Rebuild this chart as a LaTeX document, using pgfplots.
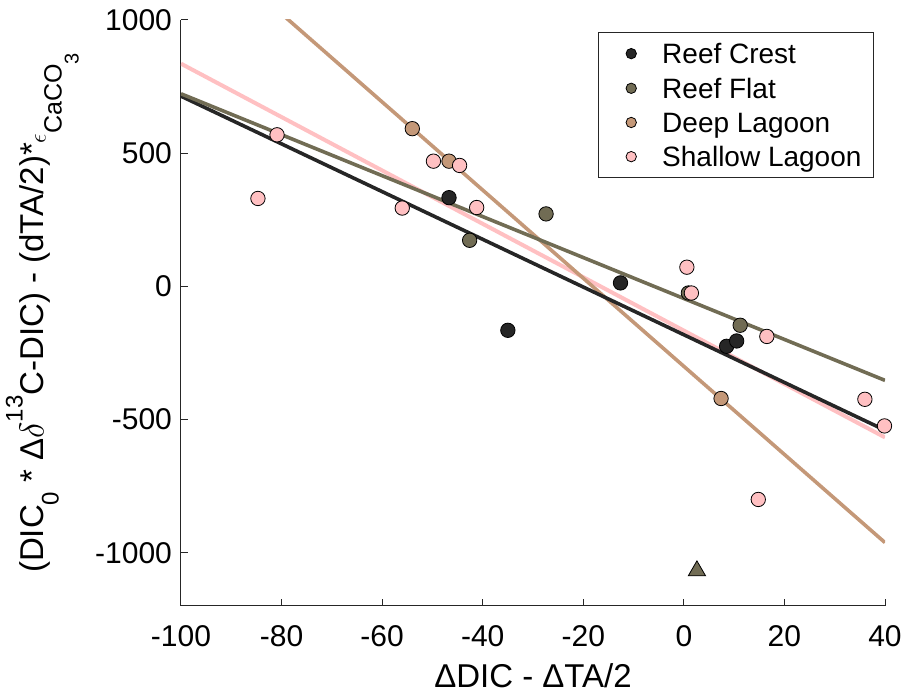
\documentclass[border=0pt]{standalone}
\usepackage{pgfplots}
\pgfplotsset{compat=1.18}
\usepackage{fontspec}
\setmainfont{Liberation Sans}
\definecolor{crest}{RGB}{38,38,38}
\definecolor{flat}{RGB}{113,108,84}
\definecolor{deep}{RGB}{196,152,120}
\definecolor{shallow}{RGB}{255,192,194}
\definecolor{axgray}{RGB}{38,38,38}
\newcommand\shift[3]{\raisebox{#1}[0pt][0pt]{\fontsize{#2}{#2}\selectfont #3}}
\begin{document}
\begin{tikzpicture}
\begin{axis}[
  scale only axis,
  width=352pt, height=293pt,
  xmin=-100, xmax=40, ymin=-1200, ymax=1000,
  xtick={-100,-80,-60,-40,-20,0,20,40},
  ytick={-1000,-500,0,500,1000},
  axis x line*=bottom, axis y line*=left,
  axis line style={-, color=axgray, line width=0.5pt},
  tick align=inside,
  major tick length=3.5pt,
  tick style={color=axgray, line width=0.5pt},
  /pgf/number format/assume math mode=true,
  /pgf/number format/1000 sep={},
  ticklabel style={font=\fontsize{15}{18}\selectfont, text=black},
  xticklabel style={yshift=-6pt},
  yticklabel style={xshift=-1pt},
  label style={font=\fontsize{16.5}{20}\selectfont},
  xlabel={ΔDIC - ΔTA/2},
  ylabel={(DIC\shift{-7.5pt}{12}{0} * Δ$\delta$\shift{10.5pt}{12}{13}C-DIC) - (dTA/2)*\shift{-1pt}{12}{$\epsilon$\shift{-8pt}{12.5}{CaCO\shift{-8.5pt}{10}{3}}}},
  xlabel style={yshift=-2pt},
  ylabel style={yshift=15.5pt},
  clip mode=individual,
  legend style={at={(axis description cs:1,1)}, anchor=north east, xshift=-5.5pt, yshift=-6pt,
    draw=axgray, line width=0.5pt, font=\fontsize{14}{16}\selectfont,
    inner xsep=4pt, inner ysep=3.5pt, row sep=3.2pt,
    nodes={inner sep=2pt, text depth=0pt}},
  legend cell align=left,
  legend image post style={mark size=2.6pt},
  legend image code/.code={\path[draw=none,fill=none] (0pt,0pt) rectangle (26pt,0pt); \path[#1,draw=none] plot[only marks] coordinates {(12.5pt,0pt)};},
]
% fitted lines
\addplot[shallow, line width=2pt, forget plot] coordinates {(-100,836) (40,-567)};
\addplot[deep, line width=1.8pt, forget plot] coordinates {(-100,1354) (40,-962)};
\addplot[crest, line width=1.8pt, forget plot] coordinates {(-100,714) (40,-540)};
\addplot[flat, line width=1.8pt, forget plot] coordinates {(-100,723) (40,-353)};
% Reef Crest
\addplot[only marks, mark=*, mark size=3.6pt, mark options={fill=crest, draw=black, line width=0.4pt}]
  coordinates {(-46.7,333) (-35.0,-165) (-12.6,13) (8.5,-225) (10.5,-205)};
\addlegendentry{Reef Crest}
% Reef Flat
\addplot[only marks, mark=*, mark size=3.6pt, mark options={fill=flat, draw=black, line width=0.4pt}]
  coordinates {(-42.6,173) (-27.4,272) (0.9,-25) (11.2,-146)};
\addlegendentry{Reef Flat}
% Deep Lagoon
\addplot[only marks, mark=*, mark size=3.6pt, mark options={fill=deep, draw=black, line width=0.4pt}]
  coordinates {(-54.0,592) (-46.7,470) (7.4,-421)};
\addlegendentry{Deep Lagoon}
% Shallow Lagoon
\addplot[only marks, mark=*, mark size=3.6pt, mark options={fill=shallow, draw=black, line width=0.4pt}]
  coordinates {(-84.7,330) (-80.9,569) (-56.0,294) (-49.8,470) (-44.6,454) (-41.2,296)
               (0.6,72) (1.5,-25) (16.5,-188) (14.8,-800) (36.0,-424) (39.9,-524)};
\addlegendentry{Shallow Lagoon}
% triangle outlier
\addplot[only marks, mark=triangle*, mark size=5pt, forget plot,
  mark options={fill=flat, draw=black, line width=0.4pt}]
  coordinates {(2.6,-1068)};
\end{axis}
\pgfresetboundingbox
\path ([shift={(-90.5pt,-45pt)}]current axis.south west) rectangle ([shift={(10.5pt,10pt)}]current axis.north east);
\end{tikzpicture}
\end{document}
